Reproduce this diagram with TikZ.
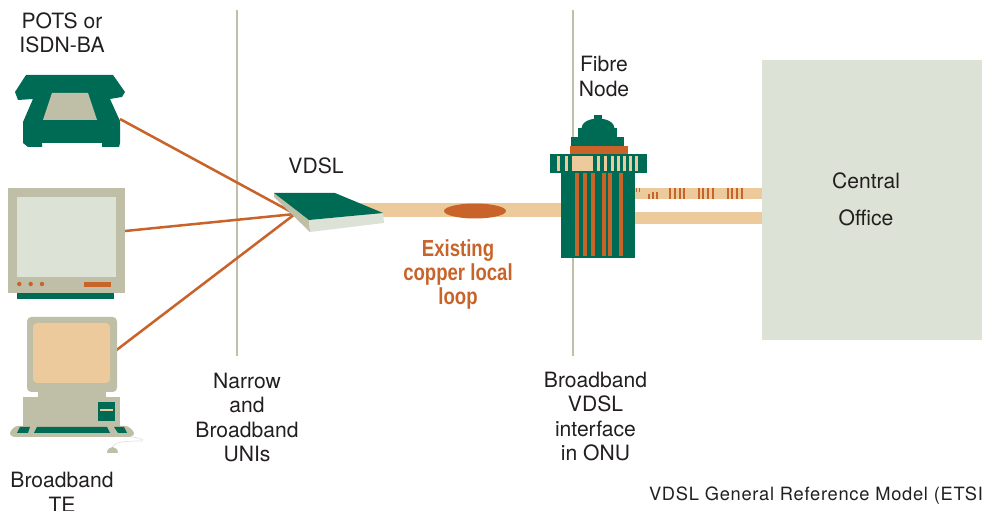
\documentclass[tikz,border=0pt]{standalone}
\usepackage{fontspec}
\setmainfont{TeX Gyre Heros}
\newfontfamily\loopfont[FakeStretch=0.8]{Liberation Sans}
\usetikzlibrary{positioning}

\definecolor{ongreen}{HTML}{006B54}
\definecolor{rust}{HTML}{C8642A}
\definecolor{peach}{HTML}{EDCA9C}
\definecolor{khaki}{HTML}{BFBEA6}
\definecolor{mist}{HTML}{DCE3D6}
\definecolor{ink}{HTML}{231F20}

\begin{document}
\begin{tikzpicture}[x=0.025cm,y=-0.025cm,
                    every node/.style={inner sep=0pt,
                      outer sep=0pt,
                      text=ink,
                      align=center,
                      anchor=north,
                      font=\fontsize{15}{17.4}\selectfont},
                    wire/.style={rust,line width=1.8pt},
                    border/.style={khaki,line width=2.1pt},
                    copper/.style={fill=peach},
                    caption/.style={font=\fontsize{13}{15}\selectfont\addfontfeature{LetterSpace=4}}]
\useasboundingbox (0,0) rectangle (982,511);

\draw[border] (237,10) -- (237,356);
\draw[border] (573,10) -- (573,356);
\fill[mist] (762,60) rectangle (982,340);

\coordinate (tel) at (120,119);
\coordinate (tv) at (125,231);
\coordinate (pc) at (110,355);
\coordinate (hub) at (295,214);
\draw[wire] (tel) -- (hub);
\draw[wire] (tv) -- (hub);
\draw[wire] (pc) -- (hub);

% telephone
\fill[ongreen] (26,75) -- (113,75) -- (125,92) -- (122,97) -- (110,99) -- (120,121)
  -- (120,143) -- (119,147) -- (102,147) -- (102,143) -- (42,143) -- (42,147)
  -- (28,147) -- (23,143) -- (23,122) -- (33,99) -- (18,100) -- (15,92) -- cycle;
\fill[khaki] (52,93) -- (88,93) -- (97,120) -- (43,120) -- cycle;

% monitor
\fill[khaki] (8,188) rectangle (125,293);
\fill[mist] (17,197) rectangle (116,277);
\foreach \x in {19.3,30.7,42}
  \fill[rust] (\x,284) circle (2.2);
\fill[rust] (84,282) rectangle (111,287);
\fill[ongreen] (17,293) rectangle (114,299);

% computer
\fill[khaki,rounded corners=3] (27,317) rectangle (117,392);
\fill[khaki] (38,390) rectangle (106,398);
\fill[khaki] (23,397) rectangle (120,426);
\fill[peach,rounded corners=3] (33,323) rectangle (110,383);
\fill[ongreen] (98,402) rectangle (115,421);
\fill[peach] (100,409) rectangle (113,411);
\fill[khaki,rounded corners=2] (15,426) -- (128,426) -- (135,433) -- (132,437)
  -- (12,437) -- (9,433) -- cycle;
\fill[ongreen] (20,427) -- (30,427) -- (28,433) -- (17,433) -- cycle;
\fill[ongreen] (37,427) -- (107,427) -- (110,433) -- (34,433) -- cycle;
\fill[ongreen] (114,427) -- (124,427) -- (127,433) -- (118,433) -- cycle;
\draw[black!12,line width=0.5pt] (113,447) .. controls (114,442) and (125,441) .. (142,441)
  .. controls (146,440) and (136,437) .. (130,437);
\fill[khaki] (107,453) arc[start angle=180,end angle=360,x radius=5.5,y radius=6] -- cycle;

% copper pairs
\fill[copper] (360,203) rectangle (561,217);
\fill[rust] (475,211) ellipse (31 and 7.5);
\fill[copper] (635,188) rectangle (762,199);
\fill[copper] (635,212) rectangle (762,224);
\foreach \x in {669,674,679,683,698,702,707,712,727,731,736,741}
  \fill[rust] (\x,188) rectangle ++(2,11);
\fill[rust] (635.5,188) rectangle ++(1.6,4);
\fill[rust] (638.5,188) rectangle ++(1.6,4);
\fill[rust] (648,194) rectangle ++(1.8,5);
\fill[rust] (652,192) rectangle ++(1.8,7);
\fill[rust] (656,192) rectangle ++(1.8,7);

% vdsl modem
\fill[khaki] (274,193) -- (309,220) -- (310,232) -- (274,197) -- cycle;
\fill[mist] (309,220) -- (383,213) -- (384,223) -- (310,232) -- cycle;
\fill[ongreen] (274,193) -- (335,193) -- (383,213) -- (309,220) -- cycle;

% fibre node cabinet
\fill[ongreen] (594,115) rectangle (602,121);
\fill[ongreen] (581.5,128) arc[start angle=180,end angle=360,x radius=16.5,y radius=9.5] -- cycle;
\fill[ongreen] (578,128) rectangle (617,138);
\fill[ongreen] (571,137.5) rectangle (624,146);
\fill[rust] (570,146) rectangle (628,154);
\fill[ongreen] (550,154) rectangle (647,173);
\foreach \x in {557,565,597,604,611,617,623,629,635}
  \fill[peach] (\x,156) rectangle ++(2.7,15);
\fill[peach] (572,156) rectangle (593,171);
\fill[ongreen] (561,172.5) rectangle (635,258);
\foreach \x in {575,583.3,591,602,608,619}
  \fill[rust] (\x,173) rectangle ++(4,83);

% labels
\node (pots) at (62,12.5) {POTS or\\ISDN-BA};
\node (vdsl) at (316,157.5) {VDSL};
\node (fibre) at (604,56.5) {Fibre\\Node};
\node (cen) at (866,172.5) {Central};
\node (off) [below=15pt of cen] {Office};
\node (ex) at (458,240) [text=rust,
  font={\fontsize{16.5}{16.8}\selectfont\loopfont\bfseries}] {Existing\\copper local\\loop};
\node (uni) at (247,373) {Narrow\\and\\Broadband\\UNIs};
\node (onu) at (595.5,372) {Broadband\\VDSL\\interface\\in ONU};
\node (te) at (62,472.5) {Broadband\\TE};
\node (cap) at (983,486.7) [anchor=north east,caption] {VDSL General Reference Model (ETSI};
\end{tikzpicture}
\end{document}
